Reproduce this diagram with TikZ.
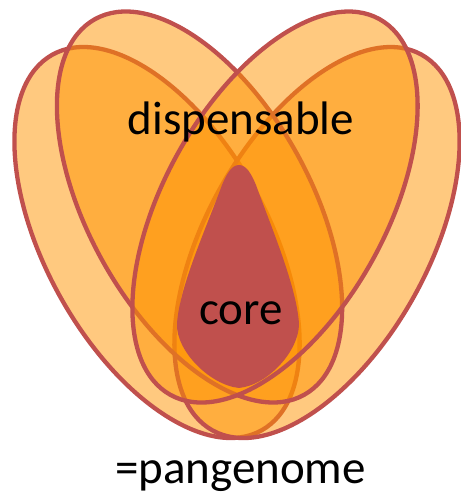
\documentclass[tikz,border=0pt]{standalone}
\usepackage{fontspec}
\setmainfont{Carlito}
\definecolor{petal}{RGB}{255,147,0}
\definecolor{rim}{RGB}{192,80,77}
\begin{document}
\begin{tikzpicture}[x=1pt,y=1pt,
  petalstyle/.style={fill=petal, fill opacity=0.5, draw=rim, line width=4.3pt},
  corestyle/.style={fill=rim, draw=none},
  lbl/.style={anchor=base, inner sep=0pt, font=\fontsize{47}{56}\selectfont, text=black}]
\useasboundingbox (0,0) rectangle (461,499);
\coordinate (c1) at (157,256.5);
\coordinate (c2) at (317,256.5);
\coordinate (c3) at (199.5,292);
\coordinate (c4) at (275,292);
\path[petalstyle, rotate around={119.1:(c1)}] (c1) ellipse [x radius=215, y radius=111];
\path[petalstyle, rotate around={60.9:(c2)}] (c2) ellipse [x radius=215, y radius=111];
\path[petalstyle, rotate around={119.1:(c3)}] (c3) ellipse [x radius=215, y radius=111];
\path[petalstyle, rotate around={60.9:(c4)}] (c4) ellipse [x radius=215, y radius=111];
\path[corestyle] (239,334) .. controls (246,334) and (251,326) .. (256,314)
  .. controls (270,275) and (297,212) .. (299,175)
  .. controls (299,148) and (268,114) .. (239,111)
  .. controls (210,114) and (176,148) .. (177,175)
  .. controls (179,212) and (208,275) .. (222,314)
  .. controls (227,326) and (232,334) .. (239,334) -- cycle;
\node[lbl] (disp) at (241,364) {dispensable};
\node[lbl] (core) at (241,174) {core};
\node[lbl] (pan) at (240.5,16) {=pangenome};
\end{tikzpicture}
\end{document}
